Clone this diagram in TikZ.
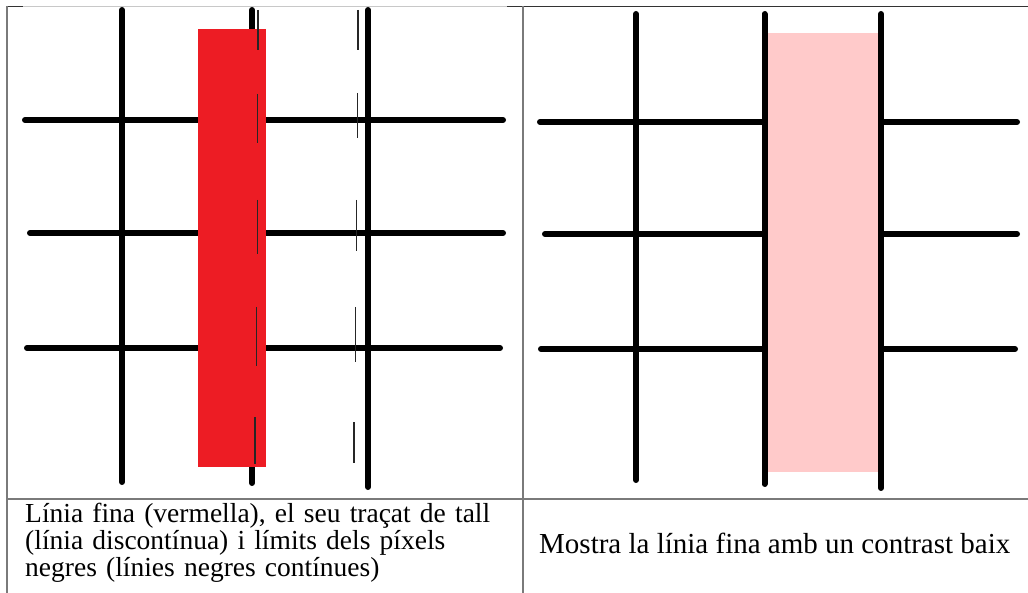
\documentclass[tikz,border=0pt]{standalone}
\usepackage{fontspec}
\setmainfont{Liberation Serif}
\usepackage{xcolor}
\definecolor{thinred}{HTML}{ED1C24}
\definecolor{paleRed}{HTML}{FFCACA}
\definecolor{rulegray}{HTML}{7A7A7A}
\definecolor{rulelight}{HTML}{C8C8C8}
\tikzset{>=latex}

\begin{document}
\begin{tikzpicture}[x=1pt, y=-1pt,
    pixline/.style={line width=6pt, line cap=round, black},
    cutline/.style={line width=1.3pt, black!85},
    tablerule/.style={line width=1.6pt, rulegray},
    caption/.style={inner sep=0pt, align=left, font=\fontsize{27.5}{27}\selectfont}]
    \useasboundingbox (0,0) rectangle (1028,593);

    % Table rules
    \draw[line width=1.2pt, rulelight] (7,6.5) -- (507,6.5);
    \draw[line width=1.2pt, black!80] (7,6.5) -- (23,6.5);
    \draw[line width=1.2pt, black!80] (507,6.5) -- (1028,6.5);
    \draw[tablerule] (7,6) -- (7,593);
    \draw[tablerule] (522.7,6) -- (522.7,593);
    \draw[tablerule] (7,499) -- (1028,499);

    % Left cell: black pixel grid
    \draw[pixline] (25,120) -- (503,120);
    \draw[pixline] (30,233) -- (503,233);
    \draw[pixline] (27,348) -- (500,348);
    \draw[pixline] (122,10) -- (122,482);
    \draw[pixline] (252,10) -- (252,483);
    \draw[pixline] (368,10) -- (368,487);

    % Thin red line
    \fill[thinred] (198,29) rectangle (266,467);

    % Cutting trace
    \foreach \xa/\xb/\ya/\yb in {258/258/10/50, 257.5/257.5/94/143, 257.5/257.5/200/254, 256.5/256.5/307/366, 255/255/417/464,
                                 358/358/10/50, 357.5/357.5/93/138, 356.5/356.5/200/251, 355.5/355.5/307/362, 354/354/422/463}
        \draw[cutline] (\xa,\ya) -- (\xb,\yb);

    % Right cell: low contrast
    \fill[paleRed] (766,33) rectangle (880,472);
    \draw[pixline] (540,122) -- (762,122);
    \draw[pixline] (882,122) -- (1017,122);
    \draw[pixline] (545,234) -- (762,234);
    \draw[pixline] (882,234) -- (1017,234);
    \draw[pixline] (541,349) -- (762,349);
    \draw[pixline] (882,349) -- (1015,349);
    \draw[pixline] (636,14) -- (636,480);
    \draw[pixline] (764.5,14) -- (764.5,484);
    \draw[pixline] (881,14) -- (881,488);

    % Captions
    \node[caption, anchor=base west, text width=500pt] (leftText) at (25,522)
        {Línia fina (vermella), el seu traçat de tall\\(línia discontínua) i límits dels píxels\\negres (línies negres contínues)};
    \node[caption, anchor=base west, font=\fontsize{29}{29}\selectfont] (rightText) at (539,553)
        {Mostra la línia fina amb un contrast baix};
\end{tikzpicture}
\end{document}
